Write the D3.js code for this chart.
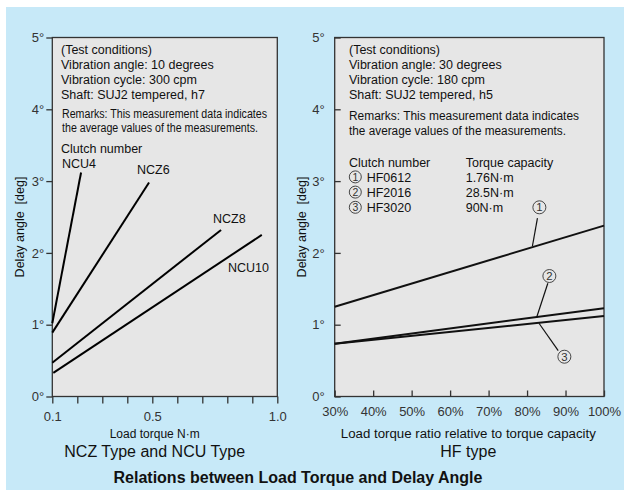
<!DOCTYPE html>
<html><head><meta charset="utf-8">
<script src="https://cdn.jsdelivr.net/npm/d3@7"></script>
<style>
html,body{margin:0;padding:0;background:#fff;}
svg text{font-family:"Liberation Sans",Arial,Helvetica,sans-serif;}
</style></head>
<body>
<svg id="c" width="624" height="490"></svg>
<script>
// ---------- data ----------
const leftXTicks = [0.1,0.2,0.3,0.4,0.5,0.6,0.7,0.8,0.9,1.0];
const leftXLabels = ["0.1","0.5","1.0"];
const yTicks = [0,1,2,3,4,5];
const ncu4  = [[0.1,1.02],[0.215,3.12]];
const ncz6  = [[0.1,0.89],[0.487,2.98]];
const ncz8  = [[0.1,0.47],[0.775,2.32]];
const ncu10 = [[0.104,0.33],[0.938,2.25]];
const leftNames = ["NCU4","NCZ6","NCZ8","NCU10"];

const rightXTicks = [30,40,50,60,70,80,90,100];
const hf0612 = [[30,1.25],[100,2.38]];
const hf2016 = [[30,0.735],[100,1.23]];
const hf3020 = [[30,0.735],[100,1.12]];
const circNums = ["1","2","3"];
const clutchNames = ["HF0612","HF2016","HF3020"];
const capacities = ["1.76N·m","28.5N·m","90N·m"];
// annotation markers: label position and leader line, in data units
const marks = [
  {t:"1", lx:83.2, ly:2.635, x1:82.7, y1:2.485, x2:81.4, y2:2.096},
  {t:"2", lx:85.8, ly:1.678, x1:85.4, y1:1.577, x2:82.5, y2:1.103},
  {t:"3", lx:89.7, ly:0.554, x1:83.1, y1:1.02,  x2:88.1, y2:0.638}
];

// ---------- layout ----------
const svg = d3.select("#c");
svg.append("rect").attr("x",6).attr("y",7).attr("width",618).attr("height",483).attr("fill","#c7e9f8");

const plotTop = 37.5, plotBottom = 396.5;
const y = d3.scaleLinear().domain([0,5]).range([plotBottom, plotTop]);
const xL = d3.scaleLinear().domain([0.1,1.0]).range([52.3,277.3]);
const xR = d3.scaleLinear().domain([30,100]).range([334.7,604]);
const line = sx => d3.line().x(d=>sx(d[0])).y(d=>y(d[1]));

function frame(x0,x1){
  svg.append("rect").attr("x",x0).attr("y",plotTop).attr("width",x1-x0).attr("height",plotBottom-plotTop)
    .attr("fill","#e6e6e6").attr("stroke","#333").attr("stroke-width",1.3);
}
frame(52.3,277.3);
frame(334.7,604);

function styleAxis(g){
  g.select(".domain").remove();
  g.selectAll(".tick line").attr("stroke","#333").attr("stroke-width",1.3);
  g.selectAll(".tick text").attr("fill","#333").attr("font-size","13px")
    .attr("font-family","'Liberation Sans',Arial,sans-serif");
}

// left axes
svg.append("g").attr("transform",`translate(52.3,0)`)
  .call(d3.axisLeft(y).tickValues(yTicks).tickSize(6).tickPadding(2).tickFormat(d=>d+"°"))
  .call(styleAxis);
svg.append("g").attr("transform",`translate(0,${plotBottom})`)
  .call(d3.axisBottom(xL).tickValues(leftXTicks).tickSize(7).tickPadding(8)
    .tickFormat(d=>{const s=d3.format(".1f")(d); return leftXLabels.includes(s)?s:"";}))
  .call(styleAxis);

// right axes
svg.append("g").attr("transform",`translate(334.7,0)`)
  .call(d3.axisLeft(y).tickValues(yTicks).tickSize(-6).tickPadding(10).tickFormat(d=>d+"°"))
  .call(styleAxis);
svg.append("g").attr("transform",`translate(0,${plotBottom})`)
  .call(d3.axisBottom(xR).tickValues(rightXTicks).tickSize(-6).tickPadding(10).tickFormat(d=>d+"%"))
  .call(styleAxis);

// lines
[ncu4,ncz6,ncz8,ncu10].forEach(s=>{
  svg.append("path").attr("d",line(xL)(s)).attr("fill","none").attr("stroke","#000").attr("stroke-width",2);
});
[hf0612,hf2016,hf3020].forEach(s=>{
  svg.append("path").attr("d",line(xR)(s)).attr("fill","none").attr("stroke","#111").attr("stroke-width",2);
});

// text helper
function txt(x,yy,s,opt={}){
  const t = svg.append("text").attr("x",x).attr("y",yy).text(s)
    .attr("font-size",opt.size||"12.5px").attr("fill",opt.fill||"#111");
  if(opt.anchor) t.attr("text-anchor",opt.anchor);
  if(opt.weight) t.attr("font-weight",opt.weight);
  if(opt.len) t.attr("textLength",opt.len).attr("lengthAdjust","spacingAndGlyphs");
  if(opt.family) t.attr("font-family",opt.family);
  return t;
}
function circled(cx,cy,d,r){
  svg.append("circle").attr("cx",cx).attr("cy",cy).attr("r",r).attr("fill","none")
    .attr("stroke","#333").attr("stroke-width",0.9);
  svg.append("text").attr("x",cx).attr("y",cy).attr("dy","0.36em").attr("text-anchor","middle")
    .attr("font-size",(r*1.75)+"px").attr("fill","#333").text(d);
}

// left text block
const lx = 61;
txt(lx,53.5,"(Test conditions)");
txt(lx,68.5,"Vibration angle: 10 degrees");
txt(lx,83.5,"Vibration cycle: 300 cpm");
txt(lx,98.5,"Shaft: SUJ2 tempered, h7");
txt(62,118,"Remarks: This measurement data indicates",{size:"12px",len:205});
txt(62,132,"the average values of the measurements.",{size:"12px",len:196});
txt(61,153,"Clutch number");
txt(62,167.5,leftNames[0]);
txt(137,174,leftNames[1]);
txt(213,223,leftNames[2]);
txt(228,272,leftNames[3]);

// right text block
const rx = 349;
txt(rx,53.5,"(Test conditions)");
txt(rx,68.5,"Vibration angle: 30 degrees");
txt(rx,83.5,"Vibration cycle: 180 cpm");
txt(rx,98.5,"Shaft: SUJ2 tempered, h5");
txt(rx,119.5,"Remarks: This measurement data indicates",{len:230});
txt(rx,134.5,"the average values of the measurements.",{len:217});
txt(rx,166.5,"Clutch number");
txt(465.7,166.5,"Torque capacity");
clutchNames.forEach((s,i)=>{
  const by = 181.5+i*15.2;
  circled(355.3, by-4.6, circNums[i], 6);
  txt(366.7,by,s);
  txt(465.7,by,capacities[i]);
});

// annotation markers
marks.forEach(m=>{
  svg.append("line").attr("x1",xR(m.x1)).attr("y1",y(m.y1)).attr("x2",xR(m.x2)).attr("y2",y(m.y2))
    .attr("stroke","#111").attr("stroke-width",1.2);
  circled(xR(m.lx), y(m.ly), m.t, 6.5);
});

// axis titles
function vlabel(cx,cy){
  svg.append("text").attr("transform",`translate(${cx},${cy}) rotate(-90)`).attr("text-anchor","middle")
    .attr("font-size","12.5px").attr("fill","#111").style("white-space","pre").text("Delay angle  [deg]");
}
vlabel(24,227);
vlabel(306,227);

txt(154.7,438,"Load torque N·m",{size:"12px",anchor:"middle"});
txt(154.7,457,"NCZ Type and NCU Type",{size:"16px",anchor:"middle"});
txt(468.3,438,"Load torque ratio relative to torque capacity",{size:"12px",anchor:"middle",len:255});
txt(468.3,457,"HF type",{size:"16px",anchor:"middle"});
txt(298,483,"Relations between Load Torque and Delay Angle",{size:"16px",anchor:"middle",weight:"bold"});
</script>
</body></html>
